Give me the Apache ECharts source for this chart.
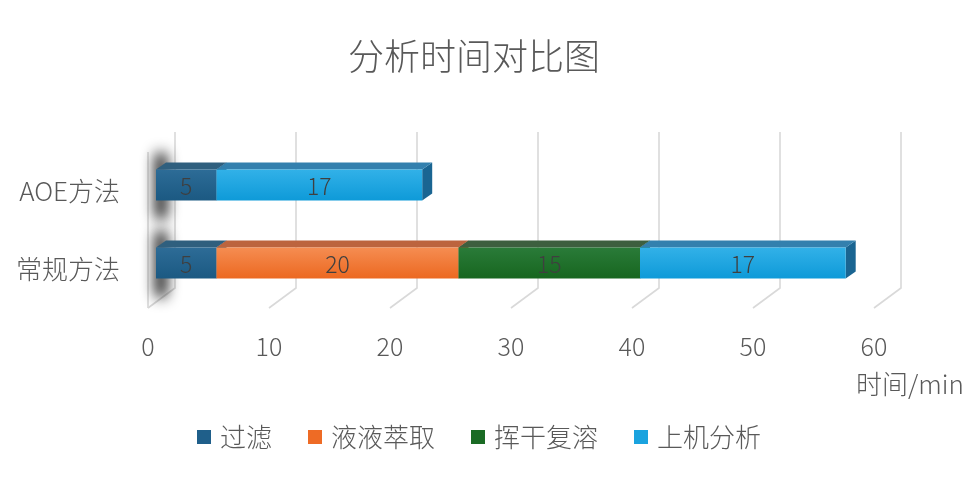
<!DOCTYPE html>
<html>
<head>
<meta charset="utf-8">
<script src="https://cdn.jsdelivr.net/npm/echarts@6/dist/echarts.min.js"></script>
<style>
html,body{margin:0;padding:0;background:#fff;}
#chart{width:976px;height:479px;}
</style>
</head>
<body>
<div id="chart"></div>
<script>
// ---- data ----
var categories = ['常规方法', 'AOE方法'];
var seriesNames = ['过滤', '液液萃取', '挥干复溶', '上机分析'];
var filtration = [5, 5];
var extraction = [20, 0];
var drying = [15, 0];
var analysis = [17, 17];
var xTicks = [0, 10, 20, 30, 40, 50, 60];
var titleText = '分析时间对比图';
var xAxisName = '时间/min';

// ---- styles ----
var FONT = '"Noto Sans CJK SC", "Noto Sans", sans-serif';
var TXT = '#595959';
var palette = [
  { front: ['#2D6C97', '#1B5982'], top: '#2F5F7E', side: '#1A4E70', legend: '#1F5F8A' },
  { front: ['#F58D52', '#EC6820'], top: '#BC643E', side: '#A8501F', legend: '#EE6B25' },
  { front: ['#2A7B39', '#17661F'], top: '#3D5F3F', side: '#14521A', legend: '#1A6B24' },
  { front: ['#32B1E8', '#0E9AD8'], top: '#3380AE', side: '#1A6592', legend: '#1AA3DF' }
];
var DEPTH_X = 27, DEPTH_Y = -20;   // floor depth
var BAR_OX = 8, BAR_OY = -6;       // bar front plane offset
var BAR_DX = 10, BAR_DY = -7;      // bar depth

var chart = echarts.init(document.getElementById('chart'));

var allValues = [filtration, extraction, drying, analysis];
var barSeries = [];
var starts = categories.map(function () { return 0; });
allValues.forEach(function (vals, si) {
  var data = vals.map(function (v, ci) {
    var s = starts[ci];
    starts[ci] += v;
    return [s, s + v, ci, v];
  });
  var pal = palette[si];
  barSeries.push({
    type: 'custom',
    name: seriesNames[si],
    itemStyle: { color: pal.legend },
    encode: { x: [0, 1], y: 2 },
    data: data,
    z: 5,
    renderItem: function (params, api) {
      var val = api.value(3);
      if (!val) return null;
      var ci = api.value(2);
      var p0 = api.coord([api.value(0), ci]);
      var p1 = api.coord([api.value(1), ci]);
      var h = api.size([0, 1])[1] * 0.4;
      var x0 = p0[0] + BAR_OX, x1 = p1[0] + BAR_OX;
      var yc = p0[1] + BAR_OY;
      var yt = yc - h / 2, yb = yc + h / 2;
      return {
        type: 'group',
        children: [
          { type: 'polygon', shape: { points: [[x1, yt], [x1 + BAR_DX, yt + BAR_DY], [x1 + BAR_DX, yb + BAR_DY], [x1, yb]] },
            style: { fill: pal.side } },
          { type: 'polygon', shape: { points: [[x0, yt], [x1, yt], [x1 + BAR_DX, yt + BAR_DY], [x0 + BAR_DX, yt + BAR_DY]] },
            style: { fill: pal.top } },
          { type: 'rect', shape: { x: x0, y: yt, width: x1 - x0, height: yb - yt },
            style: { fill: new echarts.graphic.LinearGradient(0, 0, 0, 1, [
              { offset: 0, color: pal.front[0] }, { offset: 1, color: pal.front[1] }]) } },
          { type: 'text', x: (x0 + x1) / 2, y: yc + 1,
            style: { text: String(val), fill: '#3F3F3F', font: '300 23px ' + FONT, align: 'center', verticalAlign: 'middle' } }
        ]
      };
    }
  });
});

var gridSeries = {
  type: 'custom',
  name: 'grid',
  silent: true,
  z: 1,
  encode: { x: 0, y: 1 },
  data: xTicks.map(function (v) { return [v, 0]; }),
  renderItem: function (params, api) {
    var cs = params.coordSys;
    var px = api.coord([api.value(0), 0])[0];
    var top = cs.y, bottom = cs.y + cs.height;
    var children = [
      { type: 'polyline', shape: { points: [[px + DEPTH_X, top + DEPTH_Y], [px + DEPTH_X, bottom + DEPTH_Y], [px, bottom]] },
        style: { stroke: '#D9D9D9', lineWidth: 1.6, fill: null } }
    ];
    if (api.value(0) === 0) {
      children.push({ type: 'line', shape: { x1: px, y1: top, x2: px, y2: bottom },
        style: { stroke: '#D9D9D9', lineWidth: 1.6 } });
    }
    return { type: 'group', children: children };
  }
};

var SHIFT = 2000;
var wallShadow = {
  type: 'custom',
  name: 'wall',
  silent: true,
  z: 2,
  encode: { x: 0, y: 1 },
  data: categories.map(function (c, i) { return [0, i]; }),
  renderItem: function (params, api) {
    var p = api.coord([0, api.value(1)]);
    return {
      type: 'rect',
      shape: { x: p[0] + 7 - SHIFT, y: p[1] - 39, width: 12, height: 68, r: 6 },
      style: { fill: '#222', shadowBlur: 14, shadowOffsetX: SHIFT, shadowColor: 'rgba(20,20,20,1)' }
    };
  }
};

var option = {
  animation: false,
  backgroundColor: '#ffffff',
  title: {
    text: titleText,
    left: 343,
    top: 33,
    textStyle: { fontFamily: FONT, fontSize: 36, fontWeight: 300, color: TXT }
  },
  legend: {
    data: seriesNames,
    left: 192,
    top: 419,
    icon: 'rect',
    itemWidth: 14,
    itemHeight: 14,
    itemGap: 36,
    textStyle: { fontFamily: FONT, fontSize: 26, fontWeight: 300, color: TXT, padding: [0, 0, 0, 4] }
  },
  grid: { left: 148, top: 152, width: 726, height: 156, containLabel: false },
  xAxis: {
    type: 'value',
    min: 0, max: 60, interval: 10,
    axisLine: { show: false }, axisTick: { show: false }, splitLine: { show: false },
    axisLabel: { margin: 26, fontFamily: FONT, fontSize: 25, fontWeight: 300, color: TXT }
  },
  yAxis: {
    type: 'category',
    data: categories,
    axisLine: { show: false }, axisTick: { show: false }, splitLine: { show: false },
    axisLabel: { margin: 28, fontFamily: FONT, fontSize: 26, fontWeight: 300, color: TXT }
  },
  graphic: [
    { type: 'text', left: 856, top: 371,
      style: { text: xAxisName, font: '300 26px ' + FONT, fill: TXT } }
  ],
  series: [gridSeries, wallShadow].concat(barSeries)
};
chart.setOption(option);
</script>
</body>
</html>
